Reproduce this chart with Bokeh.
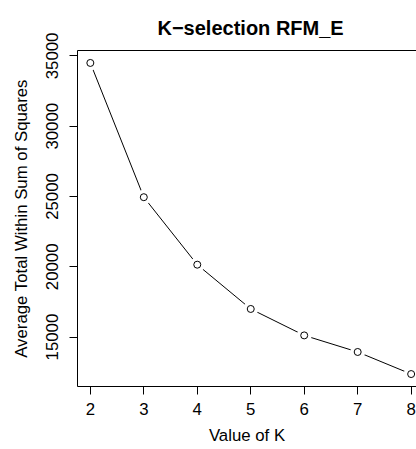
from bokeh.embed import file_html
from bokeh.models import FixedTicker, LinearAxis, Range1d
from bokeh.plotting import figure
from bokeh.resources import INLINE

# Elbow curve: average total within-cluster sum of squares per K
k_values = [2, 3, 4, 5, 6, 7, 8]
avg_within_ss = [34500, 24950, 20150, 17000, 15120, 13940, 12370]

x_ticks = [2, 3, 4, 5, 6, 7, 8]
y_ticks = [15000, 20000, 25000, 30000, 35000]

FONT = "Liberation Sans"
LABEL_SIZE = "16.8px"

# 4% padding around the data range on each side
pad = 0.04
x_lo, x_hi = min(k_values), max(k_values)
y_lo, y_hi = min(avg_within_ss), max(avg_within_ss)
x_span = x_hi - x_lo
y_span = y_hi - y_lo

p = figure(
    width=416,
    height=449,
    output_backend="svg",
    toolbar_location=None,
    x_range=Range1d(x_lo - pad * x_span, 8.10),
    y_range=Range1d(y_lo - pad * y_span, y_hi + pad * y_span),
    min_border_left=77,
    min_border_right=0,
    min_border_top=50,
    min_border_bottom=63,
    background_fill_color="white",
    border_fill_color="white",
    outline_line_color=None,
)
p.grid.visible = False

p.xaxis.ticker = FixedTicker(ticks=x_ticks)
p.yaxis.ticker = FixedTicker(ticks=y_ticks)
p.xaxis.axis_label = "Value of K"
p.yaxis.axis_label = "Average Total Within Sum of Squares"
p.yaxis.major_label_orientation = "parallel"

for ax in (p.xaxis, p.yaxis):
    ax.axis_line_color = "black"
    ax.axis_line_width = 1
    ax.major_tick_line_color = "black"
    ax.major_tick_in = 0
    ax.major_tick_out = 8
    ax.minor_tick_line_color = None
    ax.major_label_text_font = FONT
    ax.major_label_text_font_size = LABEL_SIZE
    ax.major_label_text_color = "black"
    ax.axis_label_text_font = FONT
    ax.axis_label_text_font_size = LABEL_SIZE
    ax.axis_label_text_font_style = "normal"
    ax.axis_label_text_color = "black"

p.xaxis.major_label_standoff = 8
p.xaxis.axis_label_standoff = 8
p.yaxis.major_label_standoff = 11
p.yaxis.axis_label_standoff = 13

# Top edge of the box around the plotting region
top = LinearAxis(
    axis_line_color="black",
    major_tick_line_color=None,
    minor_tick_line_color=None,
    major_label_text_font_size="0px",
    ticker=FixedTicker(ticks=[]),
)
p.add_layout(top, "above")

p.title.text = "K\u2212selection RFM_E"
p.title.align = "left"
p.title.offset = 80
p.title.standoff = 24
p.title.text_font = FONT
p.title.text_font_size = "20px"
p.title.text_font_style = "bold"
p.title.text_color = "black"

# Connecting line, with small gaps around each point
p.line(k_values, avg_within_ss, line_color="black", line_width=1)
p.scatter(k_values, avg_within_ss, size=15, fill_color="white", line_color=None)
p.scatter(k_values, avg_within_ss, size=7, fill_color=None, line_color="black", line_width=1)

open("out.html", "w").write(file_html(p, INLINE))
